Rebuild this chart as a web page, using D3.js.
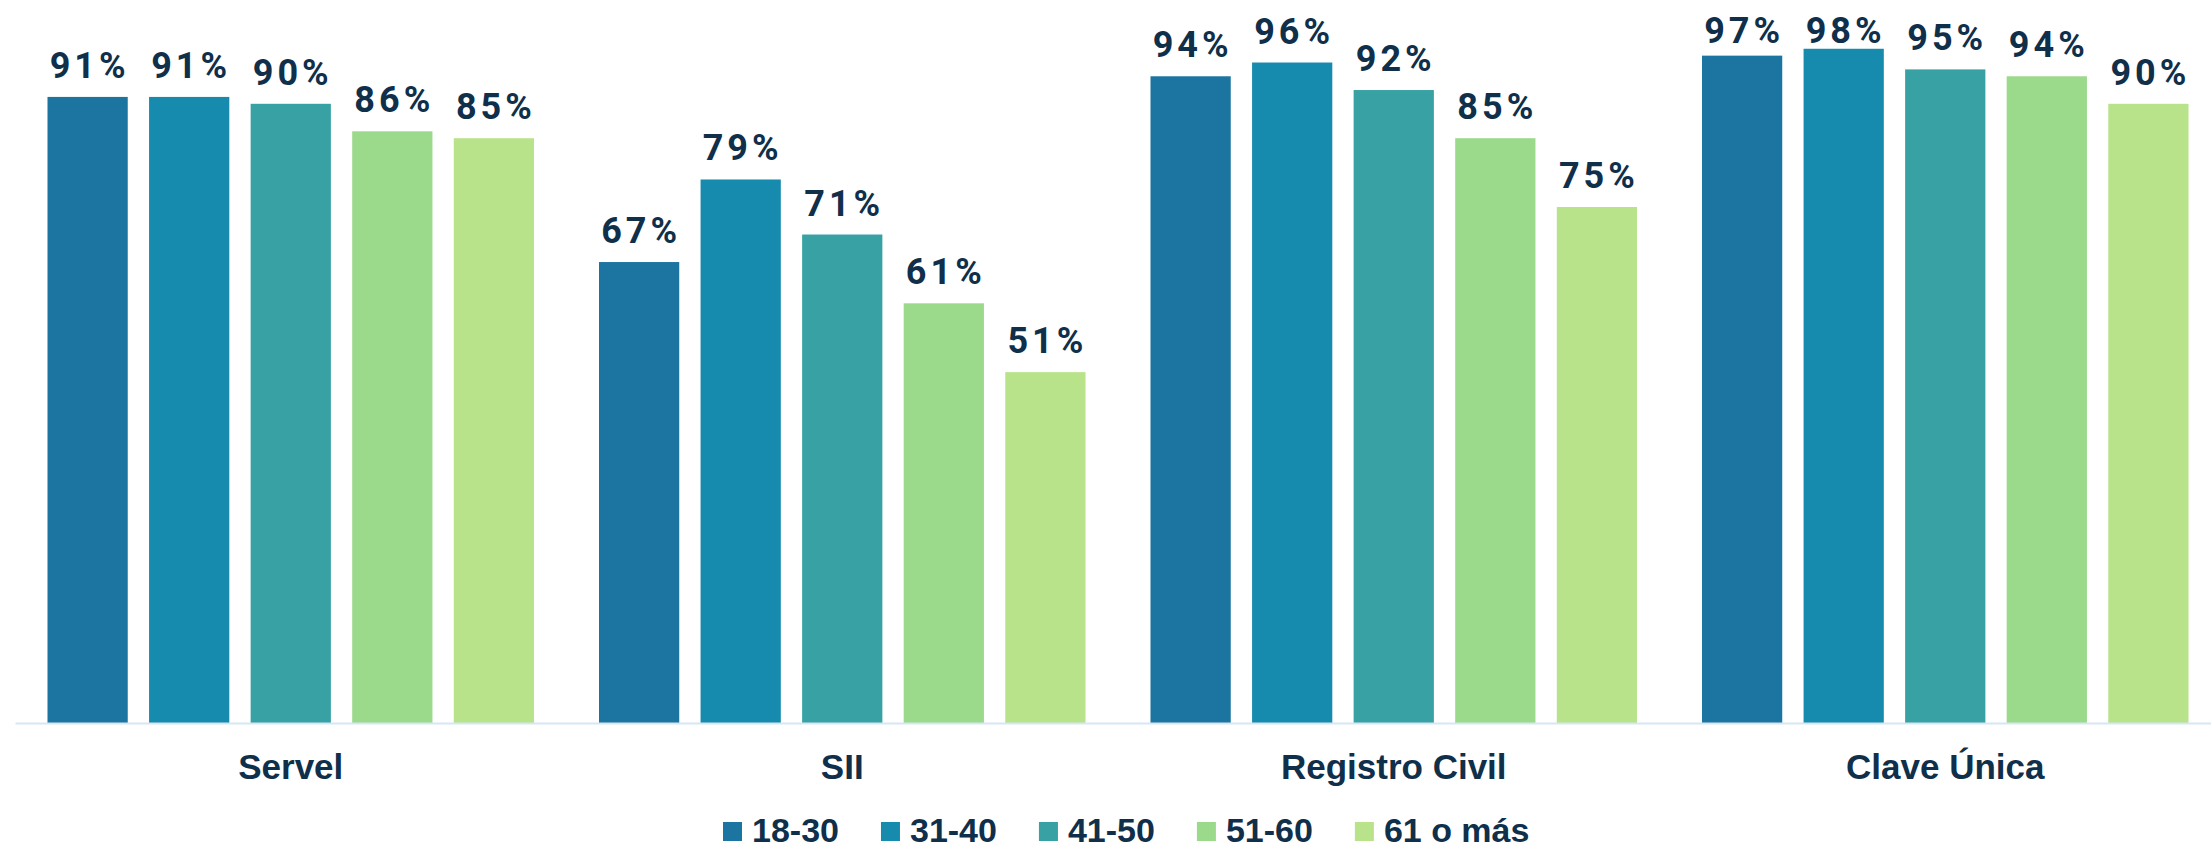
<!DOCTYPE html>
<html>
<head>
<meta charset="utf-8">
<script src="https://cdn.jsdelivr.net/npm/d3@7"></script>
<style>
  html, body { margin: 0; padding: 0; background: #fff; }
  svg { display: block; }
</style>
</head>
<body>
<div id="chart"></div>
<script>
  //
  // D A T A
  //
  var categories = ["Servel", "SII", "Registro Civil", "Clave Única"];
  var ageGroups  = ["18-30", "31-40", "41-50", "51-60", "61 o más"];

  var v18_30 = [91, 67, 94, 97];
  var v31_40 = [91, 79, 96, 98];
  var v41_50 = [90, 71, 92, 95];
  var v51_60 = [86, 61, 85, 94];
  var v61mas = [85, 51, 75, 90];

  var series = [v18_30, v31_40, v41_50, v51_60, v61mas];
  var colors = ["#1c74a0", "#178bae", "#37a1a4", "#9bd98b", "#b8e38b"];

  //
  // S E T U P
  //
  var W = 2211, H = 848,
      baseY = 723,
      ink = "#0f2f4a";

  var svg = d3.select("#chart").append("svg")
    .attr("width", W)
    .attr("height", H);

  var x0 = d3.scaleBand()
    .domain(categories)
    .range([15, 2221]);

  var x1 = d3.scaleBand()
    .domain(ageGroups)
    .range([0, x0.bandwidth()])
    .paddingInner(0.21)
    .paddingOuter(0.32);

  var y = d3.scaleLinear()
    .domain([0, 100])
    .range([baseY, baseY - 688]);

  var color = d3.scaleOrdinal().domain(ageGroups).range(colors);

  // flatten into rows for the bars
  var rows = [];
  categories.forEach(function(c, i){
    ageGroups.forEach(function(g, j){
      rows.push({cat: c, group: g, value: series[j][i]});
    });
  });

  //
  // B A R S
  //
  var bars = svg.append("g").attr("class", "bars");

  bars.selectAll("rect")
    .data(rows)
    .enter().append("rect")
      .attr("x", function(d){ return x0(d.cat) + x1(d.group); })
      .attr("y", function(d){ return y(d.value); })
      .attr("width", x1.bandwidth())
      .attr("height", function(d){ return y(0) - y(d.value); })
      .attr("fill", function(d){ return color(d.group); });

  // value labels; the tallest ones get pushed down so they stay on the page
  bars.selectAll("text")
    .data(rows)
    .enter().append("text")
      .attr("x", function(d){ return x0(d.cat) + x1(d.group) + x1.bandwidth() / 2 + 2; })
      .attr("y", function(d){ return Math.max(y(d.value) - 19, 43); })
      .attr("text-anchor", "middle")
      .attr("fill", ink)
      .style("font-family", "Roboto, 'Noto Sans', sans-serif")
      .style("font-weight", 700)
      .style("font-size", "36px")
      .style("letter-spacing", "4px")
      .text(function(d){ return d.value + "%"; });

  //
  // A X I S
  //
  var axis = svg.append("g")
    .attr("transform", "translate(0," + baseY + ")")
    .call(d3.axisBottom(x0).tickSize(0).tickPadding(0));

  axis.select(".domain")
    .attr("stroke", "#d6e6f5")
    .attr("stroke-width", 2);

  axis.selectAll(".tick text")
    .attr("y", 56)
    .attr("dy", 0)
    .attr("fill", ink)
    .style("font-family", "'Liberation Sans', Arial, sans-serif")
    .style("font-weight", 700)
    .style("font-size", "35px");

  //
  // L E G E N D
  //
  var legend = svg.append("g").attr("class", "legend");
  var lx = 723;

  ageGroups.forEach(function(g){
    var item = legend.append("g").attr("transform", "translate(" + lx + ",0)");
    item.append("rect")
      .attr("x", 0)
      .attr("y", 822)
      .attr("width", 19)
      .attr("height", 19)
      .attr("fill", color(g));
    var t = item.append("text")
      .attr("x", 29)
      .attr("y", 842)
      .attr("fill", ink)
      .style("font-family", "'Liberation Sans', Arial, sans-serif")
      .style("font-weight", 700)
      .style("font-size", "34px")
      .text(g);
    lx += 29 + t.node().getComputedTextLength() + 42;
  });
</script>
</body>
</html>
